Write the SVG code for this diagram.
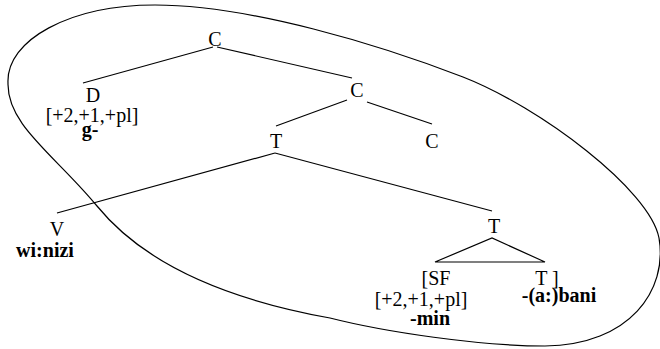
<svg xmlns="http://www.w3.org/2000/svg" width="660" height="349" viewBox="0 0 660 349">
<style>
.ln{stroke:#000;stroke-width:1.2;fill:none}
</style>
<rect width="660" height="349" fill="#fff"/>
<g id="boundary">
<path class="ln" d="M 8,83 C 6,40 70,5 155,5 C 250,5 380,45 463,77 C 540,107 650,190 659,238 C 668,290 630,345 545,346 C 480,346 385,332 330,318 C 230,300 145,265 97,206 C 55,155 7,125 8,83 Z"/>
</g>
<g id="connectors">
<line class="ln" x1="213" y1="47" x2="83" y2="83"/>
<line class="ln" x1="217" y1="47" x2="352" y2="78"/>
<line class="ln" x1="347" y1="100" x2="276" y2="126"/>
<line class="ln" x1="367" y1="102" x2="432" y2="124"/>
<line class="ln" x1="275" y1="153" x2="57" y2="213"/>
<line class="ln" x1="275" y1="153" x2="492" y2="211"/>
<path class="ln" d="M 545,262 L 492,238 L 435,262 Z"/>
</g>
<g font-family="'Liberation Serif', 'Times New Roman', Tinos, 'DejaVu Serif', serif" font-size="20" text-anchor="middle" fill="#000">
<g id="C1"><text x="215" y="46">C</text></g>
<g id="D"><text x="93" y="102">D</text><text x="92" y="122">[+2,+1,+pl]</text><text font-weight="bold" x="90" y="136">g-</text></g>
<g id="C2"><text x="357" y="97">C</text></g>
<g id="T1"><text x="276" y="148">T</text></g>
<g id="C3"><text x="432" y="148">C</text></g>
<g id="V"><text x="57" y="236">V</text><text font-weight="bold" x="45" y="257">wi:nizi</text></g>
<g id="T2"><text x="494" y="233">T</text></g>
<g id="SF"><text x="436" y="285">[SF</text><text x="421" y="306">[+2,+1,+pl]</text><text font-weight="bold" x="430" y="325">-min</text></g>
<g id="T3"><text x="547" y="285">T ]</text><text font-weight="bold" x="559" y="302">-(a:)bani</text></g>
</g>
</svg>
